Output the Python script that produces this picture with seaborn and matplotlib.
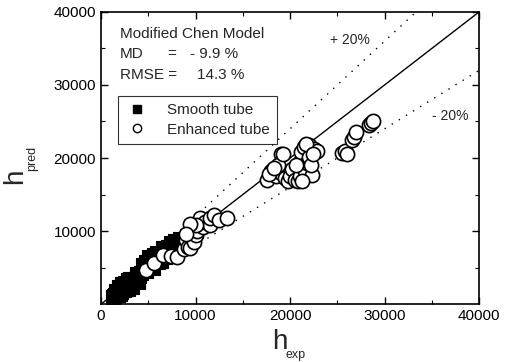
import matplotlib
matplotlib.use("Agg")
import matplotlib.pyplot as plt
import seaborn as sns
import numpy as np
import pandas as pd
from matplotlib.lines import Line2D

# ---- data ----
smooth_x = [1300, 1500, 1700, 1800, 2000, 2100, 2200, 2300, 2400, 2500, 2600, 2700,
            2800, 3000, 3200, 3400, 1600, 1900, 2200, 2500, 2800, 3100, 1400, 2000,
            2600, 3600, 3800, 4000, 4200, 4500, 4800, 5000, 5300, 5500, 5800, 6000,
            6200, 6500, 6800, 7000, 7300, 7600, 8000, 5200, 5600, 6300, 7100, 7800,
            4400, 4700, 5100, 5900, 6600, 7400, 8300, 3300, 3900, 2900]
smooth_y = [1000, 1300, 1500, 1200, 1800, 1600, 2000, 2200, 1900, 2400, 2100, 2600,
            2500, 2800, 3000, 3200, 1800, 2300, 2700, 2900, 3300, 3500, 1100, 1400,
            2000, 3500, 4100, 3800, 4300, 4800, 4500, 5200, 5600, 5000, 6200, 5800,
            6600, 6900, 6400, 7300, 7500, 7900, 8200, 6000, 6700, 5900, 7800, 8600,
            5300, 5700, 6400, 7000, 7700, 8300, 8900, 2400, 3000, 2000]

enh_x = [4800, 5600, 6600, 7400, 8000, 8800,
         9000, 9200, 9400, 9500, 9800, 10000, 10200, 10500, 10800, 11000, 11500,
         11500, 12000, 12500, 13300, 10000, 9400, 9000,
         17600, 18000, 18500, 19000, 19000, 19500, 19800, 20000, 20200, 20500, 20800,
         21000, 21000, 21200, 21500, 21500, 21800, 22000, 22000, 22300, 22500, 21300,
         20600, 18700, 19300, 22200, 22800, 17800, 18300, 21700, 22400,
         25500, 25800, 26000, 26600, 26800, 27000, 28400, 28600, 28800]
enh_y = [4600, 5600, 6700, 6600, 6500, 7500,
         8800, 7800, 7700, 9200, 8500, 9500, 10000, 11800, 10500, 11200, 10800,
         11800, 12200, 11500, 11800, 10800, 11000, 9600,
         17000, 18200, 17500, 18000, 20500, 17200, 16800, 17500, 18500, 17000, 16800,
         17500, 19500, 20800, 21500, 18500, 19300, 21800, 20200, 17700, 21200, 16900,
         19000, 19000, 20600, 19000, 21000, 17800, 18600, 21900, 20600,
         20700, 21000, 20500, 22500, 22900, 23500, 24500, 24800, 25000]

line_x = [0, 40000]

df = pd.concat([
    pd.DataFrame({"h_exp": smooth_x, "h_pred": smooth_y, "tube": "Smooth tube"}),
    pd.DataFrame({"h_exp": enh_x, "h_pred": enh_y, "tube": "Enhanced tube"}),
], ignore_index=True)

sns.set_theme(style="ticks")
plt.rcParams["font.family"] = ["Liberation Sans", "DejaVu Sans"]

fig = plt.figure(figsize=(5.08, 3.62), dpi=100)
ax = fig.add_axes([0.199, 0.160, 0.744, 0.807])

# reference lines
ax.plot(line_x, [v * 1.0 for v in line_x], color="black", lw=1.0, zorder=1)
ax.plot(line_x, [v * 1.2 for v in line_x], color="black", lw=1.0, ls=(0, (1, 5)), zorder=1)
ax.plot(line_x, [v * 0.8 for v in line_x], color="black", lw=1.0, ls=(0, (1, 5)), zorder=1)

sns.scatterplot(data=df[df.tube == "Smooth tube"], x="h_exp", y="h_pred",
                marker="s", s=95, color="black", edgecolor="black", linewidth=0.8,
                ax=ax, legend=False, zorder=2)
sns.scatterplot(data=df[df.tube == "Enhanced tube"], x="h_exp", y="h_pred",
                marker="o", s=105, facecolor="white", edgecolor="black", linewidth=1.2,
                ax=ax, legend=False, zorder=3)

ax.set_xlim(0, 40000)
ax.set_ylim(0, 40000)
ax.set_xticks([0, 10000, 20000, 30000, 40000])
ax.set_yticks([10000, 20000, 30000, 40000])
ax.set_xticks([5000, 15000, 25000, 35000], minor=True)
ax.set_yticks([5000, 15000, 25000, 35000], minor=True)
ax.tick_params(axis="both", which="both", direction="in", top=True, right=True,
               labelsize=11, colors="black")
ax.tick_params(which="major", length=5, width=1.0)
ax.tick_params(which="minor", length=3, width=0.8)
for sp in ax.spines.values():
    sp.set_linewidth(1.2)
    sp.set_color("black")
ax.set_xlabel("")
ax.set_ylabel("")

# axis labels with subscripts
fig.text(272 / 508, 1 - 349 / 362, "h", fontsize=20, ha="left", va="baseline")
fig.text(286 / 508, 1 - 358 / 362, "exp", fontsize=9, ha="left", va="baseline")
fig.text(28 / 508, 1 - 184 / 362, "h", fontsize=20, rotation=90, ha="right", va="bottom")
fig.text(38 / 508, 1 - 171 / 362, "pred", fontsize=9, rotation=90, ha="right", va="bottom")

# annotations
ax.text(0.05, 0.925, "Modified Chen Model", transform=ax.transAxes, fontsize=11, va="center")
ax.text(0.05, 0.855, "MD", transform=ax.transAxes, fontsize=11, va="center")
ax.text(0.175, 0.855, "=", transform=ax.transAxes, fontsize=11, va="center")
ax.text(0.235, 0.855, "- 9.9 %", transform=ax.transAxes, fontsize=11, va="center")
ax.text(0.05, 0.785, "RMSE =", transform=ax.transAxes, fontsize=11, va="center")
ax.text(0.255, 0.785, "14.3 %", transform=ax.transAxes, fontsize=11, va="center")
ax.text(0.605, 0.905, "+ 20%", transform=ax.transAxes, fontsize=10, va="center")
ax.text(0.875, 0.645, "- 20%", transform=ax.transAxes, fontsize=10, va="center")

handles = [
    Line2D([], [], marker="s", ls="none", color="black", markersize=5.5),
    Line2D([], [], marker="o", ls="none", markerfacecolor="white",
           markeredgecolor="black", markersize=6),
]
leg = ax.legend(handles, ["Smooth tube", "Enhanced tube"], loc="upper left",
                bbox_to_anchor=(0.025, 0.74), fontsize=11, frameon=True,
                fancybox=False, edgecolor="black", handletextpad=1.2,
                handlelength=1.5, borderpad=0.5, labelspacing=0.35)
leg.get_frame().set_linewidth(0.8)

fig.savefig("out.png", dpi=100)
